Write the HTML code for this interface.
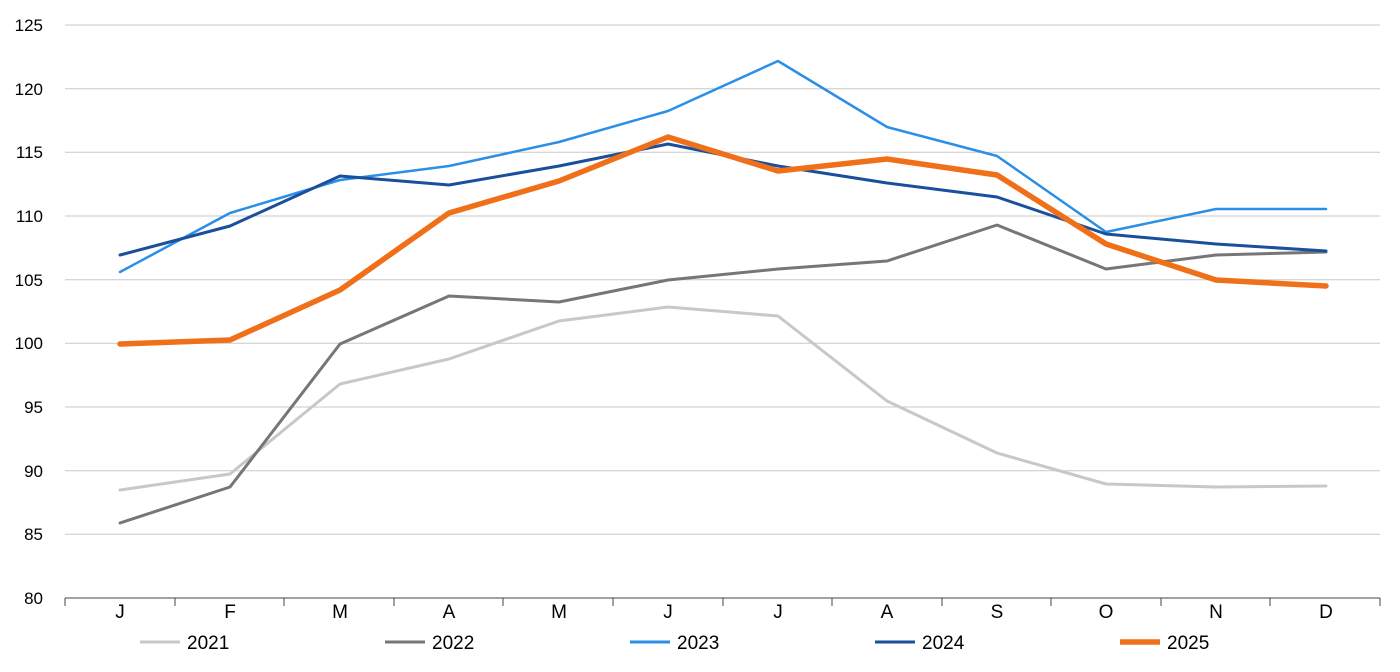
<!DOCTYPE html>
<html><head><meta charset="utf-8"><style>
body{margin:0;background:#fff;}
svg text{font-family:"Liberation Sans",sans-serif;fill:#000;}
</style></head><body>
<svg width="1400" height="667" xmlns="http://www.w3.org/2000/svg">
<g stroke="#c8c8c8" stroke-width="1">
<line x1="65" x2="1380" y1="25" y2="25"/><line x1="65" x2="1380" y1="88.7" y2="88.7"/>
<line x1="65" x2="1380" y1="152.3" y2="152.3"/><line x1="65" x2="1380" y1="216" y2="216"/>
<line x1="65" x2="1380" y1="279.7" y2="279.7"/><line x1="65" x2="1380" y1="343.3" y2="343.3"/>
<line x1="65" x2="1380" y1="407" y2="407"/><line x1="65" x2="1380" y1="470.7" y2="470.7"/>
<line x1="65" x2="1380" y1="534.3" y2="534.3"/>
</g>
<g stroke="#444" stroke-width="1">
<line x1="65" x2="1380" y1="598" y2="598"/>
<line x1="65" x2="65" y1="598" y2="606"/><line x1="175" x2="175" y1="598" y2="606"/>
<line x1="284" x2="284" y1="598" y2="606"/><line x1="394" x2="394" y1="598" y2="606"/>
<line x1="503" x2="503" y1="598" y2="606"/><line x1="613" x2="613" y1="598" y2="606"/>
<line x1="723" x2="723" y1="598" y2="606"/><line x1="832" x2="832" y1="598" y2="606"/>
<line x1="942" x2="942" y1="598" y2="606"/><line x1="1051" x2="1051" y1="598" y2="606"/>
<line x1="1161" x2="1161" y1="598" y2="606"/><line x1="1270" x2="1270" y1="598" y2="606"/>
<line x1="1380" x2="1380" y1="598" y2="606"/>
</g>
<g font-size="17" text-anchor="end">
<text x="43" y="31">125</text><text x="43" y="95">120</text><text x="43" y="158">115</text>
<text x="43" y="222">110</text><text x="43" y="286">105</text><text x="43" y="349">100</text>
<text x="43" y="413">95</text><text x="43" y="477">90</text><text x="43" y="540">85</text>
<text x="43" y="604">80</text>
</g>
<g font-size="19" text-anchor="middle">
<text x="120" y="618">J</text><text x="230" y="618">F</text><text x="340" y="618">M</text>
<text x="449" y="618">A</text><text x="559" y="618">M</text><text x="668" y="618">J</text>
<text x="778" y="618">J</text><text x="887" y="618">A</text><text x="997" y="618">S</text>
<text x="1106" y="618">O</text><text x="1216" y="618">N</text><text x="1326" y="618">D</text>
</g>
<g fill="none" stroke-linejoin="round" stroke-linecap="round">
<polyline stroke="#c8c8c8" stroke-width="3" points="120,490 230,474 340,384 449,359 559,321 668,307 778,316 887,401 997,453 1106,484 1216,487 1326,486"/>
<polyline stroke="#767676" stroke-width="3" points="120,523 230,487 340,344 449,296 559,302 668,280 778,269 887,261 997,225 1106,269 1216,255 1326,252"/>
<polyline stroke="#2a8fe6" stroke-width="2.5" points="120,272 230,213 340,180 449,166 559,142 668,111 778,61 887,127 997,156 1106,232 1216,209 1326,209"/>
<polyline stroke="#1a4f9c" stroke-width="3" points="120,255 230,226 340,176 449,185 559,166 668,144 778,166 887,183 997,197 1106,234 1216,244 1326,251"/>
<polyline stroke="#f0701a" stroke-width="5.5" points="120,344 230,340 340,290 449,213 559,181 668,137 778,171 887,159 997,175 1106,244 1216,280 1326,286"/>
</g>
<g font-size="19">
<line x1="140" x2="180" y1="642" y2="642" stroke="#c8c8c8" stroke-width="3"/><text x="187" y="649">2021</text>
<line x1="385" x2="425" y1="642" y2="642" stroke="#767676" stroke-width="3"/><text x="432" y="649">2022</text>
<line x1="630" x2="670" y1="642" y2="642" stroke="#2a8fe6" stroke-width="3"/><text x="677" y="649">2023</text>
<line x1="875" x2="915" y1="642" y2="642" stroke="#1a4f9c" stroke-width="3"/><text x="922" y="649">2024</text>
<line x1="1120" x2="1160" y1="642" y2="642" stroke="#f0701a" stroke-width="5.5"/><text x="1167" y="649">2025</text>
</g>
</svg>
</body></html>
